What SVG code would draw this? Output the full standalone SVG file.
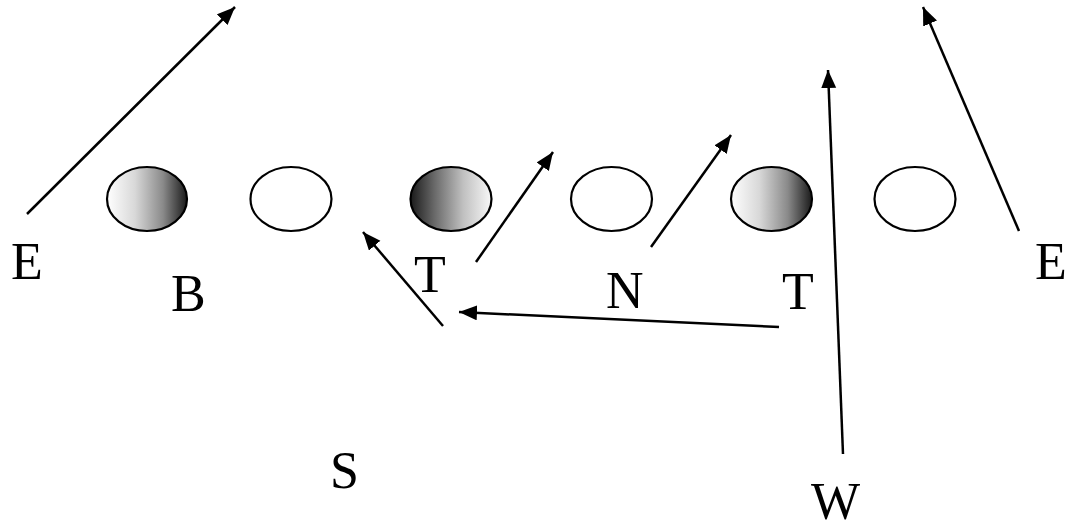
<svg xmlns="http://www.w3.org/2000/svg" width="1066" height="523" viewBox="0 0 1066 523">
<style>
.pl{stroke:#000;stroke-width:2.2;}
.lbl{font-family:"Liberation Serif","Times New Roman",serif;font-size:52px;fill:#000;}
.con{stroke:#000;stroke-width:2.5;fill:none;marker-end:url(#ah);}
</style>
<defs>
<linearGradient id="g1" x1="0" y1="0" x2="1" y2="0">
<stop offset="0" stop-color="#ffffff"/>
<stop offset="0.35" stop-color="#d8d8d8"/>
<stop offset="0.7" stop-color="#8a8a8a"/>
<stop offset="1" stop-color="#1a1a1a"/>
</linearGradient>
<linearGradient id="g2" x1="0" y1="0" x2="1" y2="0">
<stop offset="0" stop-color="#1a1a1a"/>
<stop offset="0.3" stop-color="#6a6a6a"/>
<stop offset="0.65" stop-color="#c0c0c0"/>
<stop offset="1" stop-color="#f8f8f8"/>
</linearGradient>
<marker id="ah" markerUnits="userSpaceOnUse" markerWidth="20" markerHeight="16" refX="18" refY="7.5" orient="auto">
<path d="M0,0 L18,7.5 L0,15 Z" fill="#000"/>
</marker>
</defs>
<rect width="1066" height="523" fill="#fff"/>
<g id="players">
<g id="p1"><ellipse class="pl" cx="147" cy="199" rx="40" ry="32" fill="url(#g1)"/></g>
<g id="p2"><ellipse class="pl" cx="291" cy="199" rx="40.5" ry="32" fill="#fff"/></g>
<g id="p3"><ellipse class="pl" cx="451" cy="199" rx="40.5" ry="32" fill="url(#g2)"/></g>
<g id="p4"><ellipse class="pl" cx="611.5" cy="199" rx="40.5" ry="32" fill="#fff"/></g>
<g id="p5"><ellipse class="pl" cx="771.5" cy="199" rx="40.5" ry="32" fill="url(#g1)"/></g>
<g id="p6"><ellipse class="pl" cx="915" cy="199" rx="40.5" ry="32" fill="#fff"/></g>
</g>
<g id="labels">
<g id="lE1"><text class="lbl" x="11" y="279">E</text></g>
<g id="lB"><text class="lbl" x="171" y="311">B</text></g>
<g id="lT1"><text class="lbl" x="414" y="292">T</text></g>
<g id="lN"><text class="lbl" x="606" y="308">N</text></g>
<g id="lT2"><text class="lbl" x="782" y="309">T</text></g>
<g id="lE2"><text class="lbl" x="1035" y="279">E</text></g>
<g id="lS"><text class="lbl" x="330" y="488">S</text></g>
<g id="lW"><text class="lbl" x="811" y="519">W</text></g>
</g>
<g id="connectors">
<line class="con" x1="27" y1="214" x2="235" y2="7"/>
<line class="con" x1="443" y1="326" x2="363" y2="232"/>
<line class="con" x1="476" y1="262" x2="553" y2="152"/>
<line class="con" x1="651" y1="247" x2="731" y2="135"/>
<line class="con" x1="779" y1="327" x2="459" y2="312"/>
<line class="con" x1="843" y1="454" x2="828" y2="70"/>
<line class="con" x1="1019" y1="231" x2="923" y2="7"/>
</g>
</svg>
